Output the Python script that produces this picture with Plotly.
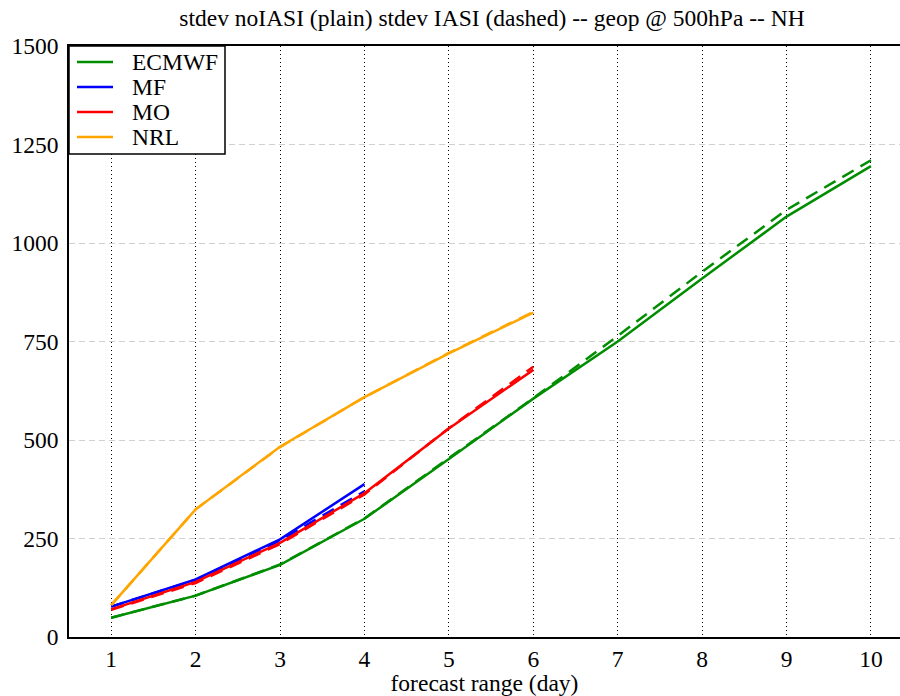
import plotly.graph_objects as go

# Forecast range in days
days = [1, 2, 3, 4, 5, 6, 7, 8, 9, 10]

# Standard deviation without IASI (plain lines)
ecmwf_noiasi = [49, 105, 183, 300, 452, 605, 750, 910, 1067, 1195]
mf_noiasi = [77, 146, 248, 388]
mo_noiasi = [70, 140, 239, 365, 529, 678]
nrl_noiasi = [81, 324, 483, 609, 720, 823]

# Standard deviation with IASI (dashed lines)
ecmwf_iasi = [49, 105, 184, 301, 454, 606, 764, 927, 1084, 1210]
mf_iasi = [77, 145, 245, 370]
mo_iasi = [69, 137, 236, 362, 530, 686]
nrl_iasi = [81, 324, 482, 609, 721, 825]

centres = ["ECMWF", "MF", "MO", "NRL"]
colours = ["#008e00", "#0000ff", "#ff0000", "#ffa500"]
plain = [ecmwf_noiasi, mf_noiasi, mo_noiasi, nrl_noiasi]
dashed = [ecmwf_iasi, mf_iasi, mo_iasi, nrl_iasi]

y_ticks = [0, 250, 500, 750, 1000, 1250, 1500]

serif = "Liberation Serif"
fs = 23.5

# Plot-area geometry in pixels (used for the hand-built key box)
W, H = 900, 696
ML, MR, MT, MB = 69, 0, 46, 59
PW, PH = W - ML - MR, H - MT - MB


def px_x(p):
    return (p - ML) / PW


def px_y(p):
    return 1 - (p - MT) / PH


fig = go.Figure()

for name, col, vals in zip(centres, colours, dashed):
    fig.add_trace(go.Scatter(
        x=days[:len(vals)], y=vals, mode="lines", name=name + " IASI",
        line=dict(color=col, width=2.5, dash="13px,8px"), showlegend=False,
    ))

for name, col, vals in zip(centres, colours, plain):
    fig.add_trace(go.Scatter(
        x=days[:len(vals)], y=vals, mode="lines", name=name,
        line=dict(color=col, width=2.5), showlegend=False,
    ))

# Key box in the top-left corner of the plot
fig.add_shape(type="rect", xref="paper", yref="paper", layer="above",
              x0=px_x(ML), x1=px_x(225), y0=px_y(154), y1=px_y(MT),
              fillcolor="white", line=dict(color="black", width=1.5))
row_y = [62, 87, 112, 137]
for name, col, ry in zip(centres, colours, row_y):
    fig.add_shape(type="line", xref="paper", yref="paper", layer="above",
                  x0=px_x(77), x1=px_x(113), y0=px_y(ry), y1=px_y(ry),
                  line=dict(color=col, width=2.5))
    fig.add_annotation(xref="paper", yref="paper", x=px_x(130), y=px_y(ry),
                       xanchor="left", yanchor="middle", text=name, showarrow=False,
                       font=dict(family=serif, size=fs, color="black"))

fig.update_layout(
    width=W, height=H,
    margin=dict(l=ML, r=MR, t=MT, b=MB),
    paper_bgcolor="white", plot_bgcolor="white",
    showlegend=False,
    font=dict(family=serif, size=fs, color="black"),
    title=dict(
        text="stdev noIASI (plain) stdev IASI (dashed) -- geop @ 500hPa -- NH",
        x=492 / W, xanchor="center", y=1 - 18 / H, yanchor="middle",
        font=dict(family=serif, size=fs, color="black"),
    ),
    xaxis=dict(
        range=[0.5, 10.344], tickvals=days, ticktext=[str(d) for d in days],
        showgrid=True, gridcolor="black", gridwidth=1, griddash="1px,3px",
        showline=True, linecolor="black", linewidth=1.5, mirror=True,
        ticks="", zeroline=False, ticklabelstandoff=0,
        title=dict(text="forecast range (day)", font=dict(family=serif, size=fs), standoff=0),
        tickfont=dict(family=serif, size=fs),
    ),
    yaxis=dict(
        range=[0, 1500], tickvals=y_ticks,
        showgrid=True, gridcolor="#d0d0d0", gridwidth=1, griddash="6px,4px",
        showline=True, linecolor="black", linewidth=1.5,
        ticks="", zeroline=False, ticklabelstandoff=4,
        tickfont=dict(family=serif, size=fs),
    ),
)

fig.write_html("out.html")
